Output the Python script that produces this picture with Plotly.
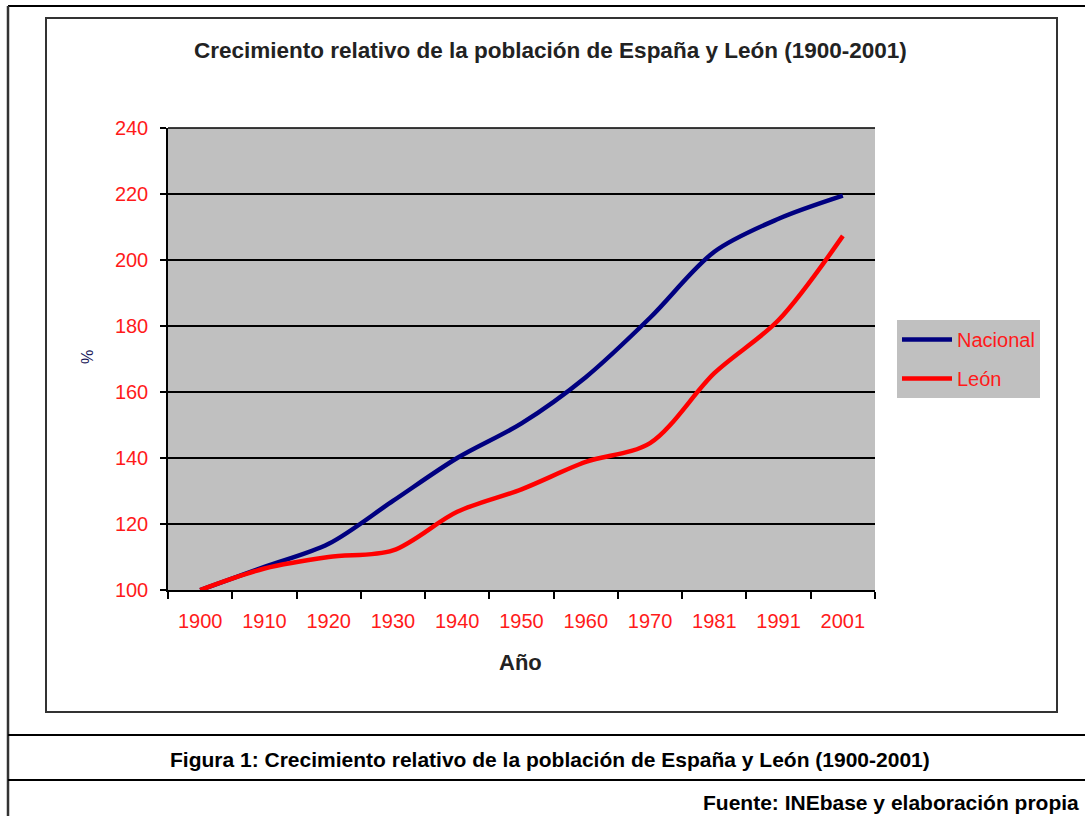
import plotly.graph_objects as go

# datos (indice 1900 = 100)
anios = ['1900', '1910', '1920', '1930', '1940', '1950', '1960', '1970', '1981', '1991', '2001']
nacional = [100, 107, 114, 127, 140, 150.5, 164.5, 182.5, 202.5, 212.5, 219.5]
leon = [100, 106.5, 110, 112, 123.7, 130.5, 138.8, 144.5, 165.7, 181.8, 207.3]
y_ticks = [100, 120, 140, 160, 180, 200, 220, 240]

W, H = 1085, 816
L, R, T, B = 168, 875, 128, 590
FONT = 'Liberation Sans, Arial, sans-serif'
ROJO = '#FF1a1a'


def px(x, y):
    # pixel -> coordenadas paper
    return (x - L) / (R - L), (B - y) / (B - T)


def line_shape(x0, y0, x1, y1, width=1.5, color='black'):
    a, b = px(x0, y0)
    c, d = px(x1, y1)
    return dict(type='line', xref='paper', yref='paper', x0=a, y0=b, x1=c, y1=d,
                line=dict(color=color, width=width), layer='above')


fig = go.Figure()
fig.add_scatter(x=anios, y=nacional, name='Nacional', mode='lines', legendgroup='n',
                line=dict(color='#000080', width=4.5, shape='spline', smoothing=0.9))
fig.add_scatter(x=anios, y=leon, name='León', mode='lines', legendgroup='l',
                line=dict(color='#FF0000', width=4.5, shape='spline', smoothing=0.9))

shapes = []
# bordes de la tabla del documento
shapes.append(line_shape(8, 6, 1085, 6, width=2))
shapes.append(line_shape(8, 6, 8, 816, width=2.5, color='#333333'))
shapes.append(line_shape(8, 735, 1085, 735, width=2))
shapes.append(line_shape(8, 780, 1085, 780, width=2))
# marco del grafico
a, b = px(46, 18)
c, d = px(1057, 712)
shapes.append(dict(type='rect', xref='paper', yref='paper', x0=a, y0=d, x1=c, y1=b,
                   line=dict(color='#333333', width=2), layer='below'))
# linea de rejilla superior
shapes.append(line_shape(L, T, R, T, width=1.5))


def ann(text, x, y, size=16, color='#222222', bold=False, xanchor='center', angle=0):
    xa, ya = px(x, y)
    if bold:
        text = '<b>' + text + '</b>'
    return dict(text=text, xref='paper', yref='paper', x=xa, y=ya, showarrow=False,
                xanchor=xanchor, yanchor='middle', textangle=angle,
                font=dict(family=FONT, size=size, color=color))


annotations = [
    ann('Crecimiento relativo de la población de España y León (1900-2001)', 550, 50, size=22.5, bold=True),
    ann('Año', 520, 662, size=22, bold=True),
    ann('%', 87, 357, size=16, color='#1a1a5a', angle=-90),
    ann('Figura 1: Crecimiento relativo de la población de España y León (1900-2001)', 550, 759, size=21, color='black', bold=True),
    ann('Fuente: INEbase y elaboración propia', 1081, 802, size=21, color='black', bold=True, xanchor='right'),
]

lx, ly = px(897, 320)
fig.update_layout(
    width=W, height=H,
    margin=dict(l=L, r=W - R, t=T, b=H - B),
    paper_bgcolor='white', plot_bgcolor='#C0C0C0',
    font=dict(family=FONT, size=20, color=ROJO),
    shapes=shapes,
    annotations=annotations,
    showlegend=True,
    legend=dict(x=lx, y=ly, xanchor='left', yanchor='top', bgcolor='#C0C0C0',
                font=dict(family=FONT, size=20, color=ROJO),
                tracegroupgap=10, traceorder='grouped', itemwidth=50),
    xaxis=dict(type='category', range=[-0.5, 10.5], tickson='boundaries',
               ticks='outside', ticklen=7, tickcolor='black', tickwidth=1.5,
               showline=True, linecolor='black', linewidth=1.5, showgrid=False,
               ticklabelstandoff=12,
               tickfont=dict(family=FONT, size=20, color=ROJO)),
    yaxis=dict(range=[100, 240], tickvals=y_ticks, ticks='outside', ticklen=6,
               tickcolor='black', tickwidth=1.5, showline=True, linecolor='black',
               linewidth=1.5, gridcolor='black', gridwidth=1.5, zeroline=False,
               ticklabelstandoff=8,
               tickfont=dict(family=FONT, size=20, color=ROJO)),
)

# quitar el margen por defecto del body para que el grafico quede en (0, 0)
fig.write_html("out.html", config={'displayModeBar': False},
               post_script="document.body.style.margin='0px';")
